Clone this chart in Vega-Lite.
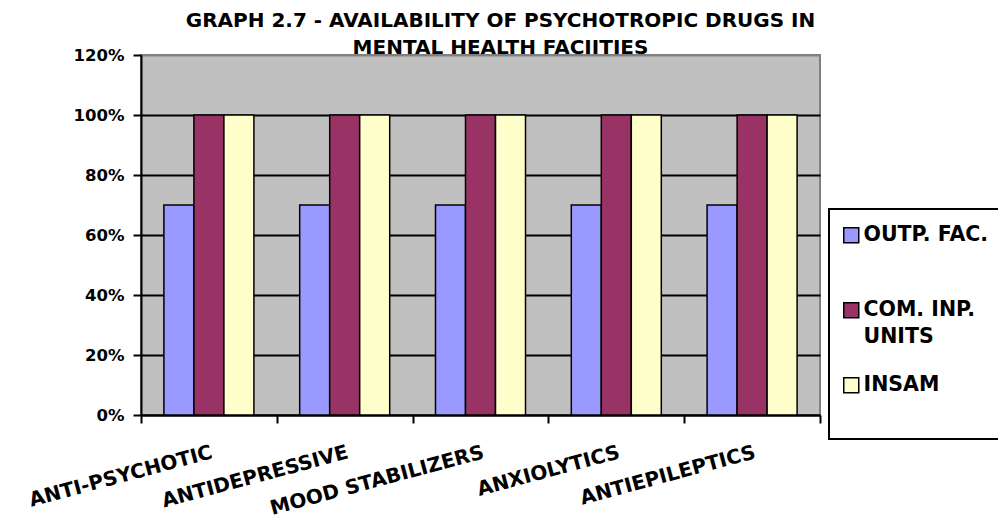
{
  "$schema": "https://vega.github.io/schema/vega-lite/v6.json",
  "width": 679,
  "height": 360,
  "autosize": {"type": "none"},
  "padding": {"left": 141, "top": 55, "right": 178, "bottom": 107},
  "background": "white",
  "config": {
    "font": "DejaVu Sans",
    "view": {"fill": "#C0C0C0", "stroke": "#808080", "strokeWidth": 2}
  },
  "title": {
    "text": ["GRAPH 2.7 - AVAILABILITY OF PSYCHOTROPIC DRUGS IN", "MENTAL HEALTH FACIITIES"],
    "font": "DejaVu Sans",
    "fontSize": 20,
    "fontWeight": "bold",
    "color": "black",
    "lineHeight": 27,
    "anchor": "middle",
    "frame": "group",
    "dx": 20,
    "offset": -11
  },
  "data": {
    "values": [
      {"drug": "ANTI-PSYCHOTIC", "series": "OUTP. FAC.", "value": 0.70},
      {"drug": "ANTI-PSYCHOTIC", "series": "COM. INP. UNITS", "value": 1.00},
      {"drug": "ANTI-PSYCHOTIC", "series": "INSAM", "value": 1.00},
      {"drug": "ANTIDEPRESSIVE", "series": "OUTP. FAC.", "value": 0.70},
      {"drug": "ANTIDEPRESSIVE", "series": "COM. INP. UNITS", "value": 1.00},
      {"drug": "ANTIDEPRESSIVE", "series": "INSAM", "value": 1.00},
      {"drug": "MOOD STABILIZERS", "series": "OUTP. FAC.", "value": 0.70},
      {"drug": "MOOD STABILIZERS", "series": "COM. INP. UNITS", "value": 1.00},
      {"drug": "MOOD STABILIZERS", "series": "INSAM", "value": 1.00},
      {"drug": "ANXIOLYTICS", "series": "OUTP. FAC.", "value": 0.70},
      {"drug": "ANXIOLYTICS", "series": "COM. INP. UNITS", "value": 1.00},
      {"drug": "ANXIOLYTICS", "series": "INSAM", "value": 1.00},
      {"drug": "ANTIEPILEPTICS", "series": "OUTP. FAC.", "value": 0.70},
      {"drug": "ANTIEPILEPTICS", "series": "COM. INP. UNITS", "value": 1.00},
      {"drug": "ANTIEPILEPTICS", "series": "INSAM", "value": 1.00}
    ]
  },
  "mark": {"type": "bar", "stroke": "black", "strokeWidth": 1.5},
  "encoding": {
    "x": {
      "field": "drug",
      "type": "nominal",
      "sort": null,
      "scale": {"paddingInner": 0, "paddingOuter": 0},
      "axis": {
        "title": null,
        "labelAngle": -15,
        "labelFont": "DejaVu Sans",
        "labelFontSize": 20,
        "labelFontWeight": "bold",
        "labelColor": "black",
        "labelPadding": 19,
        "labelLimit": 400,
        "tickBand": "extent",
        "tickColor": "black",
        "tickSize": 8,
        "tickWidth": 2,
        "domainColor": "black",
        "domainWidth": 2,
        "grid": false
      }
    },
    "xOffset": {
      "field": "series",
      "type": "nominal",
      "sort": ["OUTP. FAC.", "COM. INP. UNITS", "INSAM"],
      "scale": {"paddingInner": 0, "paddingOuter": 0.763}
    },
    "y": {
      "field": "value",
      "type": "quantitative",
      "scale": {"domain": [0, 1.2], "nice": false},
      "axis": {
        "title": null,
        "values": [0, 0.2, 0.4, 0.6, 0.8, 1.0, 1.2],
        "format": ".0%",
        "labelFont": "DejaVu Sans",
        "labelFontSize": 16.5,
        "labelFontWeight": "bold",
        "labelColor": "black",
        "labelPadding": 9,
        "tickColor": "black",
        "tickSize": 8,
        "tickWidth": 2,
        "domainColor": "black",
        "domainWidth": 2,
        "grid": true,
        "gridColor": {"condition": {"test": "datum.value >= 1.19", "value": "#808080"}, "value": "black"},
        "gridWidth": 2,
        "gridOpacity": 1
      }
    },
    "color": {
      "field": "series",
      "type": "nominal",
      "sort": ["OUTP. FAC.", "COM. INP. UNITS", "INSAM"],
      "scale": {"range": ["#9999FF", "#993366", "#FFFFCC"]},
      "legend": {
        "title": " ",
        "titleOrient": "bottom",
        "titleFontSize": 10,
        "titlePadding": 17,
        "orient": "none",
        "legendX": 688,
        "legendY": 154,
        "strokeColor": "black",
        "fillColor": "white",
        "padding": 16,
        "gridAlign": "all",
        "symbolType": "square",
        "symbolSize": 225,
        "symbolOffset": -4,
        "symbolStrokeColor": "black",
        "symbolStrokeWidth": 1.5,
        "symbolOpacity": 1,
        "labelFont": "DejaVu Sans",
        "labelFontSize": 20.5,
        "labelFontWeight": "bold",
        "labelColor": "black",
        "labelOffset": 2,
        "labelLimit": 300,
        "labelExpr": "datum.label == 'COM. INP. UNITS' ? ['COM. INP.', 'UNITS'] : datum.label",
        "rowPadding": 26,
        "encode": {
          "legend": {"update": {"strokeWidth": {"value": 2}}},
          "labels": {"update": {"lineHeight": {"value": 27}}}
        }
      }
    }
  }
}
